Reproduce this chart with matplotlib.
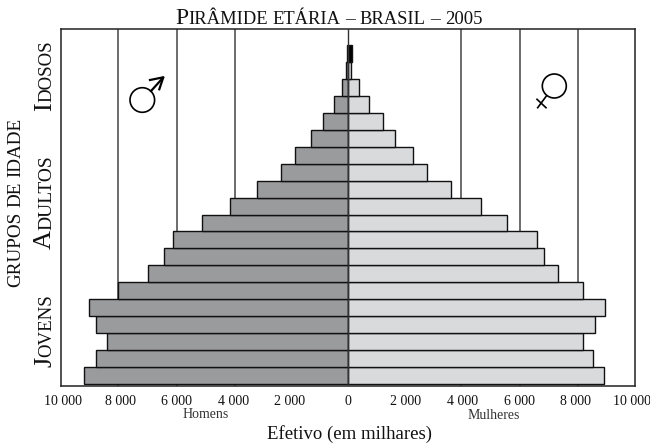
import matplotlib
matplotlib.use('Agg')
import matplotlib.pyplot as plt
from matplotlib.patches import Circle
from matplotlib.transforms import ScaledTranslation
import numpy as np

# age groups from the youngest (bottom) to the oldest (top), in thousands
homens = [9200, 8780, 8410, 8800, 9025, 8025, 6970, 6420, 6110, 5100,
          4130, 3190, 2355, 1870, 1300, 870, 490, 210, 80, 55]
mulheres = [8910, 8550, 8170, 8600, 8970, 8200, 7310, 6840, 6570, 5530,
            4640, 3600, 2750, 2265, 1650, 1220, 730, 375, 95, 120]
xticks = [-10000, -8000, -6000, -4000, -2000, 0, 2000, 4000, 6000, 8000, 10000]
xticklabels = ['10 000', '8 000', '6 000', '4 000', '2 000', '0',
               '2 000', '4 000', '6 000', '8 000', '10 000']
# the drawn lines sit a little off the nominal values in the picture
gridticks = [-8040, -5980, -3950, 3920, 5990, 8030]

plt.rcParams['font.family'] = ['Liberation Serif']

W, H = 650, 443
fig = plt.figure(figsize=(W / 100, H / 100), dpi=100, facecolor='white')

# axes box in pixels
left, right, top, bottom = 61.3, 635, 29, 386
ax = fig.add_axes([left / W, 1 - bottom / H, (right - left) / W, (bottom - top) / H])
ax.set_xlim(-10000, 10000)
rowpx = 16.95
ax.set_ylim(-0.5 - 2 / rowpx, (bottom - 384) / rowpx + (384 - top) / rowpx - 0.5 - 2 / rowpx)

for g in gridticks:
    ax.axvline(g, color='#444444', lw=1.1, zorder=1)
ax.axvline(0, color='#333333', lw=1.0, zorder=4)

rows = np.arange(len(homens))
colorsH = ['#9a9b9d'] * (len(homens) - 1) + ['black']
colorsM = ['#d9dadc'] * (len(mulheres) - 1) + ['black']
ax.barh(rows, -np.array(homens), height=1, color=colorsH, edgecolor='#111111', lw=1.0, zorder=2)
ax.barh(rows, mulheres, height=1, color=colorsM, edgecolor='#111111', lw=1.0, zorder=2)

ax.set_xticks(xticks)
ax.set_xticklabels(xticklabels, fontsize=10, color='#111111')
ax.tick_params(axis='x', length=0, pad=6.5)
ax.set_yticks([])
# labels are not quite centred under their positions in the original
shifts = [1.7, 2, 0.5, 0.5, -1, 0, 0.5, 0, -0.5, -1.7, -3.3]
for lab, dx in zip(ax.get_xticklabels(), shifts):
    lab.set_transform(lab.get_transform() + ScaledTranslation(dx / 100, 0, fig.dpi_scale_trans))
for s in ax.spines.values():
    s.set_linewidth(1.1)
    s.set_color('#222222')

# overlay in pixel coordinates for texts and the two symbols
ov = fig.add_axes([0, 0, 1, 1], facecolor='none')
ov.set_xlim(0, W)
ov.set_ylim(H, 0)
ov.axis('off')
renderer = fig.canvas.get_renderer()


def smallcaps(x, y, parts, vertical=False, gap=4.5, color='#111111'):
    # parts: (text, size), None for a word gap. x,y is the baseline start
    pos = 0
    for part in parts:
        if part is None:
            pos += gap
            continue
        txt, size = part
        if vertical:
            t = ov.text(x, y - pos, txt, fontsize=size, rotation=90, color=color,
                        ha='left', va='baseline', rotation_mode='anchor')
            pos += t.get_window_extent(renderer).height
        else:
            t = ov.text(x + pos, y, txt, fontsize=size, color=color,
                        ha='left', va='baseline')
            pos += t.get_window_extent(renderer).width
    return pos


smallcaps(175, 24, [('P', 17), ('IRÂMIDE', 13.3), None, ('ETÁRIA', 13.3), None, ('–', 14), None,
                    ('BRASIL', 13.3), None, ('–', 14), None, ('2005', 13.5)], gap=4.7)
smallcaps(20, 287, [('GRUPOS', 13.8), None, ('DE', 13.8), None, ('IDADE', 13.8)], vertical=True, gap=4.8)
smallcaps(51, 110.5, [('I', 19), ('DOSOS', 13.6)], vertical=True)
smallcaps(51, 249, [('A', 19), ('DULTOS', 14)], vertical=True)
smallcaps(51, 367, [('J', 19), ('OVENS', 13.6)], vertical=True)

ov.text(205.5, 415, 'Homens', fontsize=10, ha='center', va='center', color='#333333')
ov.text(493.5, 415.5, 'Mulheres', fontsize=10, ha='center', va='center', color='#333333')
ov.text(349.5, 434, 'Efetivo (em milhares)', fontsize=13.5, ha='center', va='center', color='#111111')

# male symbol
ov.add_patch(Circle((142.3, 100), 12.3, fill=False, ec='black', lw=1.2, zorder=5))
ov.plot([151, 163], [91, 77.8], color='black', lw=1.6)
ov.plot([150, 163.3, 159.3], [80, 77.3, 89.3], color='black', lw=1.6)
# female symbol
ov.add_patch(Circle((554.3, 86), 12, fill=False, ec='black', lw=1.2, zorder=5))
ov.plot([546, 537.7], [96.5, 107.7], color='black', lw=1.2)
ov.plot([537, 546], [99.3, 107.7], color='black', lw=1.2)

fig.savefig('out.png', dpi=100)
